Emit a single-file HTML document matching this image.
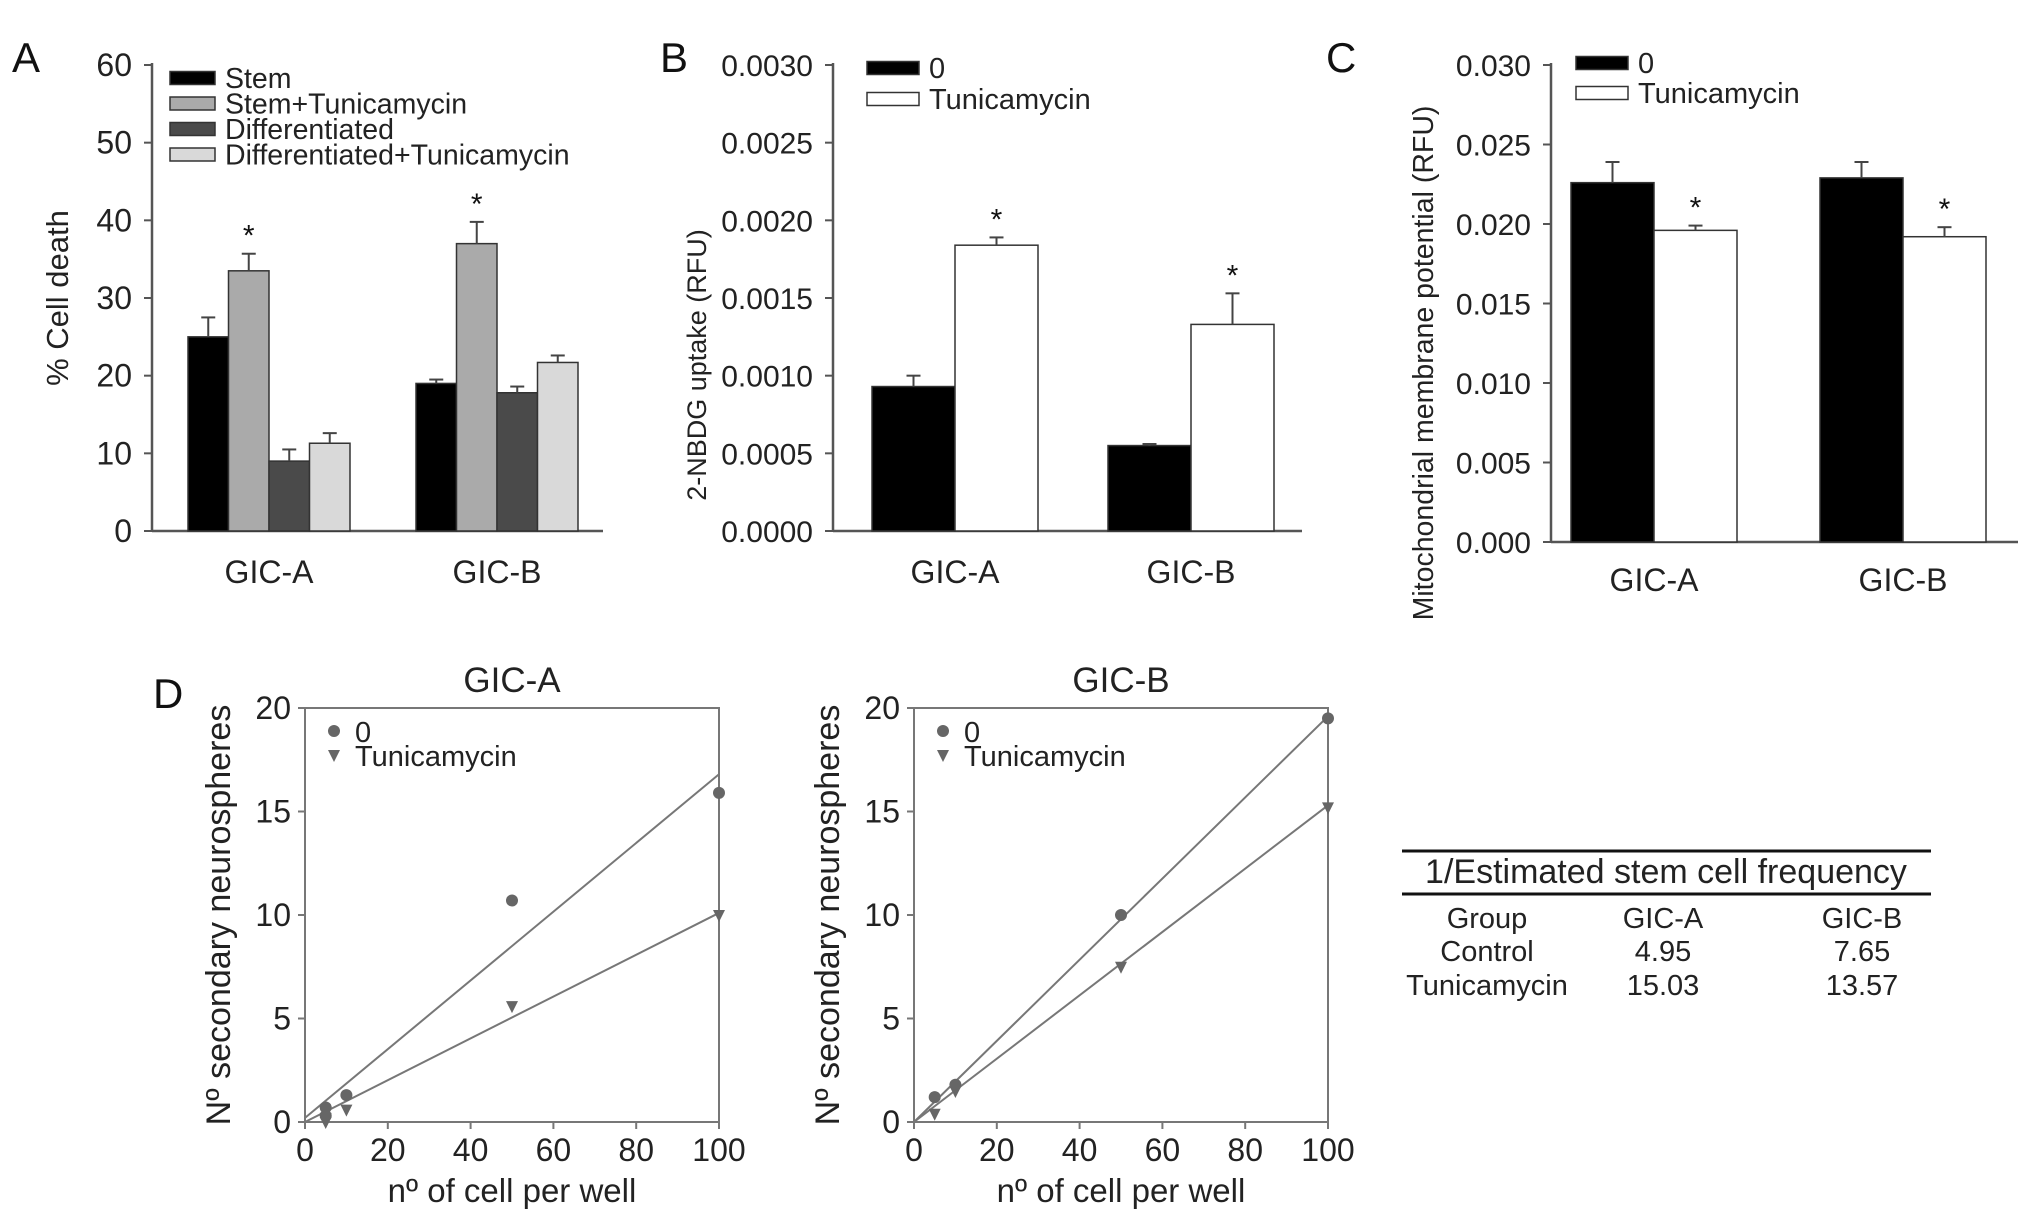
<!DOCTYPE html>
<html><head><meta charset="utf-8"><style>
html,body{margin:0;padding:0;background:#fff;}
svg{display:block;font-family:"Liberation Sans",Arial,sans-serif;}
</style></head><body>
<svg id="fig" width="2032" height="1223" viewBox="0 0 2032 1223" xmlns="http://www.w3.org/2000/svg">
<text x="12" y="72" font-size="42" fill="#111">A</text>
<text x="660" y="72" font-size="42" fill="#111">B</text>
<text x="1326" y="72" font-size="42" fill="#111">C</text>
<text x="153" y="708" font-size="42" fill="#111">D</text>
<g id="tbl" font-size="29" fill="#222" text-anchor="middle">
<line x1="1402" y1="851" x2="1931" y2="851" stroke="#111" stroke-width="3"/>
<text x="1666" y="883" font-size="34">1/Estimated stem cell frequency</text>
<line x1="1402" y1="894" x2="1931" y2="894" stroke="#111" stroke-width="3"/>
<text x="1487" y="928">Group</text>
<text x="1663" y="928">GIC-A</text>
<text x="1862" y="928">GIC-B</text>
<text x="1487" y="961">Control</text>
<text x="1663" y="961">4.95</text>
<text x="1862" y="961">7.65</text>
<text x="1487" y="995">Tunicamycin</text>
<text x="1663" y="995">15.03</text>
<text x="1862" y="995">13.57</text>
</g>
</svg>
<script>
// ---- Panel A data ----
const aCategories = ["GIC-A","GIC-B"];
const aSeries = ["Stem","Stem+Tunicamycin","Differentiated","Differentiated+Tunicamycin"];
const aValues = [[25,19],[33.5,37],[9,17.8],[11.3,21.7]];
const aErrors = [[2.5,0.5],[2.2,2.8],[1.5,0.8],[1.3,0.9]];
const aTicks = ["0","10","20","30","40","50","60"];
const aStars = [[false,false],[true,true],[false,false],[false,false]];
// ---- Panel B data ----
const bCategories = ["GIC-A","GIC-B"];
const bSeries = ["0","Tunicamycin"];
const bValues = [[0.00093,0.00055],[0.00184,0.00133]];
const bErrors = [[0.00007,0.00001],[0.00005,0.0002]];
const bTicks = ["0.0000","0.0005","0.0010","0.0015","0.0020","0.0025","0.0030"];
const bStars = [[false,false],[true,true]];
// ---- Panel C data ----
const cCategories = ["GIC-A","GIC-B"];
const cSeries = ["0","Tunicamycin"];
const cValues = [[0.0226,0.0229],[0.0196,0.0192]];
const cErrors = [[0.0013,0.001],[0.0003,0.0006]];
const cTicks = ["0.000","0.005","0.010","0.015","0.020","0.025","0.030"];
const cStars = [[false,false],[true,true]];
// ---- Panel D data ----
const dXTicks = ["0","20","40","60","80","100"];
const dYTicks = ["0","5","10","15","20"];
const dAx0 = [5,5,10,50,100];
const dAy0 = [0.7,0.3,1.3,10.7,15.9];
const dAxT = [5,5,10,50,100];
const dAyT = [0,0.2,0.6,5.6,10];
const dALine0 = [0.2,16.8];
const dALineT = [0,10.1];
const dBx0 = [5,10,50,100];
const dBy0 = [1.2,1.8,10,19.5];
const dBxT = [5,10,50,100];
const dByT = [0.4,1.5,7.5,15.2];
const dBLine0 = [0,19.6];
const dBLineT = [0,15.3];

const NS="http://www.w3.org/2000/svg";
const svg=document.getElementById('fig');
function mk(tag,attrs,parent){const e=document.createElementNS(NS,tag);for(const k in attrs)e.setAttribute(k,attrs[k]);(parent||svg).appendChild(e);return e;}
function txt(s,attrs,parent){const e=mk('text',attrs,parent);e.textContent=s;return e;}

function barPanel(o){
  const g=mk('g',{});
  
  
  const ymax=parseFloat(o.ticks[o.ticks.length-1]);
  const Y=v=>o.y0-(v/ymax)*(o.y0-o.ytop);
  const ax=mk('line',{x1:o.ax,y1:o.ytop-2,x2:o.ax,y2:o.y0,stroke:'#555','stroke-width':2.5},g);
  
  
  const xa=mk('line',{x1:o.ax,y1:o.y0,x2:o.xend,y2:o.y0,stroke:'#555','stroke-width':2.5},g);
  
  
  o.ticks.forEach(t=>{const v=parseFloat(t);
    mk('line',{x1:o.ax-8,y1:Y(v),x2:o.ax,y2:Y(v),stroke:'#555','stroke-width':2},g);
    const l=txt(t,{x:o.ax-20,y:Y(v)+11,'font-size':o.tickFs,'text-anchor':'end',fill:'#222'},g);
    
    
  });
  const yl=txt(o.ylabel,{x:0,y:0,'font-size':o.ylFs,'text-anchor':'middle',fill:'#222',transform:`translate(${o.ylx},${o.yly}) rotate(-90)`},g);
  
  
  const nS=o.series.length;
  o.cats.forEach((c,ci)=>{
    const gx=o.groupX[ci];
    o.series.forEach((s,si)=>{
      const v=o.values[si][ci],e=o.errors[si][ci];
      const x=gx+si*o.bw;
      const r=mk('rect',{x:x,y:Y(v),width:o.bw,height:o.y0-Y(v),fill:o.colors[si],stroke:'#333','stroke-width':1.5},g);
      
      
      const cx=x+o.bw/2;
      mk('line',{x1:cx,y1:Y(v),x2:cx,y2:Y(v+e),stroke:'#444','stroke-width':2},g);
      mk('line',{x1:cx-7,y1:Y(v+e),x2:cx+7,y2:Y(v+e),stroke:'#444','stroke-width':2},g);
      if(o.stars[si][ci]){const st=txt('*',{x:cx,y:Y(v+e)-8,'font-size':30,'text-anchor':'middle',fill:'#111'},g);
        
        }
    });
    const cl=txt(c,{x:gx+nS*o.bw/2,y:o.catY,'font-size':o.catFs,'text-anchor':'middle',fill:'#222'},g);
    
    
  });
  o.series.forEach((s,si)=>{
    const ly=o.legY+si*o.legDy;
    const le=mk('g',{},g);
    
    
    mk('rect',{x:o.legX,y:ly-o.swH/2,width:o.swW,height:o.swH,fill:o.colors[si],stroke:'#333','stroke-width':1.5},le);
    txt(s,{x:o.legX+o.swW+10,y:ly+10,'font-size':o.legFs,fill:'#222'},le);
  });
}
barPanel({name:'panel-a-cell-death-chart',cats:aCategories,series:aSeries,values:aValues,errors:aErrors,ticks:aTicks,stars:aStars,
  ax:152,y0:531,ytop:65,xend:603,groupX:[188,416],bw:40.5,colors:['#000','#aaa','#4a4a4a','#d9d9d9'],
  tickFs:32,ylabel:'% Cell death',ylFs:31,ylx:68,yly:298,catY:583,catFs:32,
  legX:170,legY:78,legDy:25.5,swW:45,swH:13,legFs:28.5});
barPanel({name:'panel-b-2nbdg-uptake-chart',cats:bCategories,series:bSeries,values:bValues,errors:bErrors,ticks:bTicks,stars:bStars,
  ax:833,y0:531,ytop:65,xend:1302,groupX:[872,1108],bw:83,colors:['#000','#fff'],
  tickFs:30,ylabel:'2-NBDG uptake (RFU)',ylFs:27,ylx:706,yly:365,catY:583,catFs:32,
  legX:867,legY:68,legDy:31,swW:52,swH:13,legFs:29});
barPanel({name:'panel-c-mitochondrial-potential-chart',cats:cCategories,series:cSeries,values:cValues,errors:cErrors,ticks:cTicks,stars:cStars,
  ax:1551,y0:542,ytop:65,xend:2018,groupX:[1571,1820],bw:83,colors:['#000','#fff'],
  tickFs:30,ylabel:'Mitochondrial membrane potential (RFU)',ylFs:28.5,ylx:1433,yly:363,catY:591,catFs:32,
  legX:1576,legY:63,legDy:30,swW:52,swH:13,legFs:29});

function scatterPanel(o){
  const g=mk('g',{});
  
  
  const X=v=>o.x0+v/100*(o.x1-o.x0), Y=v=>o.y0-v/20*(o.y0-o.y1);
  const box=mk('rect',{x:o.x0,y:o.y1,width:o.x1-o.x0,height:o.y0-o.y1,fill:'none',stroke:'#777','stroke-width':2},g);
  
  
  dXTicks.forEach(t=>{const v=parseFloat(t);
    mk('line',{x1:X(v),y1:o.y0,x2:X(v),y2:o.y0+7,stroke:'#777','stroke-width':2},g);
    const l=txt(t,{x:X(v),y:o.y0+39,'font-size':32,'text-anchor':'middle',fill:'#222'},g);
    
    });
  dYTicks.forEach(t=>{const v=parseFloat(t);
    mk('line',{x1:o.x0-7,y1:Y(v),x2:o.x0,y2:Y(v),stroke:'#777','stroke-width':2},g);
    const l=txt(t,{x:o.x0-14,y:Y(v)+11,'font-size':32,'text-anchor':'end',fill:'#222'},g);
    
    });
  const ti=txt(o.title,{x:(o.x0+o.x1)/2,y:o.y1-16,'font-size':35,'text-anchor':'middle',fill:'#222'},g);
  
  
  const xl=txt('nº of cell per well',{x:(o.x0+o.x1)/2,y:o.y0+80,'font-size':33,'text-anchor':'middle',fill:'#222'},g);
  
  
  const yl=txt('Nº secondary neurospheres',{x:0,y:0,'font-size':34,'text-anchor':'middle',fill:'#222',transform:`translate(${o.x0-75},${(o.y0+o.y1)/2}) rotate(-90)`},g);
  
  
  const l0=mk('line',{x1:X(0),y1:Y(o.line0[0]),x2:X(100),y2:Y(o.line0[1]),stroke:'#777','stroke-width':2},g);
  
  
  const lT=mk('line',{x1:X(0),y1:Y(o.lineT[0]),x2:X(100),y2:Y(o.lineT[1]),stroke:'#777','stroke-width':2},g);
  
  
  o.x0s.forEach((x,i)=>{const c=mk('circle',{cx:X(x),cy:Y(o.y0s[i]),r:6,fill:'#666'},g);
    
    });
  o.xTs.forEach((x,i)=>{const cx=X(x),cy=Y(o.yTs[i]);
    const p=mk('polygon',{points:`${cx-6},${cy-5} ${cx+6},${cy-5} ${cx},${cy+7}`,fill:'#666'},g);
    
    });
  const le1=mk('g',{},g);
  
  
  mk('circle',{cx:o.x0+29,cy:o.y1+23,r:6,fill:'#666'},le1);
  txt('0',{x:o.x0+50,y:o.y1+34,'font-size':29,fill:'#222'},le1);
  const le2=mk('g',{},g);
  
  
  const ly=o.y1+47,lx=o.x0+29;
  mk('polygon',{points:`${lx-6},${ly-5} ${lx+6},${ly-5} ${lx},${ly+7}`,fill:'#666'},le2);
  txt('Tunicamycin',{x:o.x0+50,y:ly+11,'font-size':29,fill:'#222'},le2);
}
scatterPanel({name:'panel-d-gic-a-scatter',title:'GIC-A',x0:305,x1:719,y0:1122,y1:708,x0s:dAx0,y0s:dAy0,xTs:dAxT,yTs:dAyT,line0:dALine0,lineT:dALineT});
scatterPanel({name:'panel-d-gic-b-scatter',title:'GIC-B',x0:914,x1:1328,y0:1122,y1:708,x0s:dBx0,y0s:dBy0,xTs:dBxT,yTs:dByT,line0:dBLine0,lineT:dBLineT});
</script>
</body></html>
